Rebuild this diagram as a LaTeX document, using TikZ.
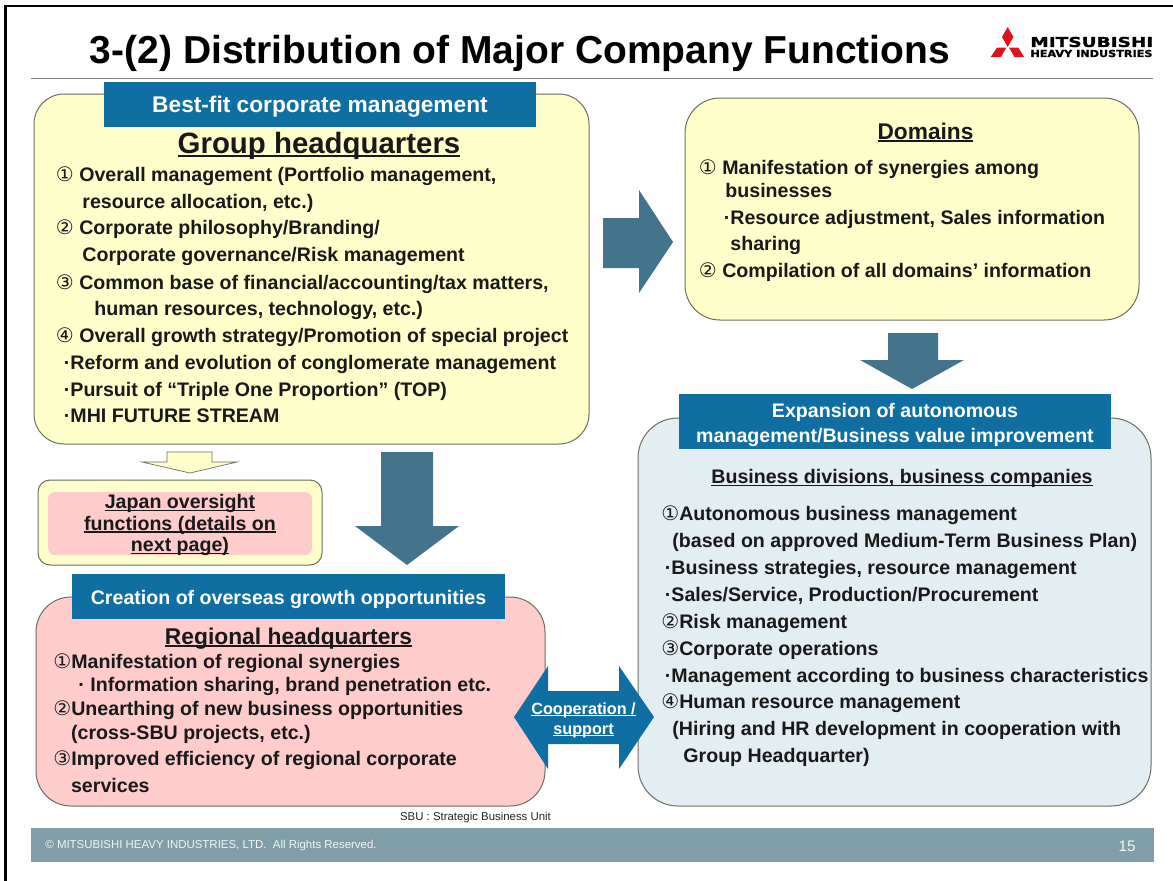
\documentclass[tikz,border=0pt]{standalone}
\usepackage{fontspec}
\setmainfont{Liberation Sans}
\newfontfamily\circfont{DejaVu Sans}
\newfontfamily\logofont[BoldFeatures={FakeBold=1.2}]{DejaVu Sans}
\usetikzlibrary{calc}
\definecolor{hqyellow}{HTML}{FFFFCC}
\definecolor{hqpink}{HTML}{FFCCCC}
\definecolor{hqblue}{HTML}{E3EEF3}
\definecolor{bannerblue}{HTML}{0F6FA3}
\definecolor{arrowteal}{HTML}{44748C}
\definecolor{footbar}{HTML}{7F9EAA}
\definecolor{edgegray}{HTML}{6E6E60}
\definecolor{logored}{HTML}{E0101E}
\newcommand{\cn}[1]{{\circfont\mdseries\fontsize{20}{20}\selectfont #1}}
\newcommand{\ulin}[1]{\setbox0=\hbox{#1}\leavevmode\rlap{\box0}\setbox0=\hbox{#1}\rule[-0.13em]{\wd0}{0.07em}}
\begin{document}
\begin{tikzpicture}[x=1pt,y=-1pt,thick]
	\tikzstyle{box}=[draw=edgegray,line width=1pt]
	\tikzstyle{banner}=[fill=bannerblue,draw=none]
	\tikzstyle{bigarrow}=[fill=arrowteal,draw=none]
	\tikzstyle{bodyline}=[anchor=base west,yshift=-7.5pt,inner sep=0pt,font=\bfseries\fontsize{19.6}{22}\selectfont,text=black!90]
	\tikzstyle{bodyc}=[bodyline,anchor=base]
	\tikzstyle{btext}=[anchor=center,inner sep=0pt,align=center,text=white,font=\bfseries\fontsize{19.6}{24.5}\selectfont]
	\useasboundingbox (0,0) rectangle (1173,881);
	%% frame and header
	\fill[white] (0,0) rectangle (1173,881);
	\draw[line width=2.8pt,line cap=rect] (5.5,881) -- (5.5,6) -- (1173,6);
	\node[anchor=center,inner sep=0pt,font=\bfseries\fontsize{39}{40}\selectfont] (title) at (520,53.5) {3-(2) Distribution of Major Company Functions};
	\draw[gray,line width=1pt] (31,78) -- (1153,78);
	%% logo
	\fill[logored] (1007.7,27) -- (1013.4,37) -- (1007.7,47) -- (1002,37) -- cycle;
	\fill[logored] (1009,47.5) -- (1018.3,47.5) -- (1024,57) -- (1014.5,57) -- cycle;
	\fill[logored] (1006.4,47.5) -- (997.1,47.5) -- (990.7,57) -- (1000.9,57) -- cycle;
	\node[anchor=west,inner sep=0pt] (logoa) at (1030,42) {\scalebox{1.36}[1]{\logofont\bfseries\fontsize{13.6}{14}\selectfont MITSUBISHI}};
	\node[anchor=west,inner sep=0pt] (logob) at (1030,53.5) {\scalebox{1.17}[1]{\logofont\bfseries\fontsize{9.6}{10}\selectfont HEAVY INDUSTRIES}};
	%% footer
	\fill[footbar] (31,828) rectangle (1154,862);
	\node[anchor=west,inner sep=0pt,text=white!90!footbar,font=\fontsize{11.45}{12}\selectfont] (copyr) at (45,846) {© MITSUBISHI HEAVY INDUSTRIES, LTD.\ \ All Rights Reserved.};
	\node[anchor=center,inner sep=0pt,text=white!90!footbar,font=\fontsize{15.3}{16}\selectfont] (pageno) at (1127,846) {15};
	\node[anchor=center,inner sep=0pt,text=black!85,font=\fontsize{11.4}{12}\selectfont] (sbu) at (475.5,818) {SBU : Strategic Business Unit};
	%% boxes
	\draw[box,fill=hqyellow,rounded corners=30pt] (34,94) rectangle (589,444);
	\draw[box,fill=hqyellow,rounded corners=35pt] (685,98) rectangle (1139,320);
	\draw[box,fill=hqblue,rounded corners=40pt] (638,418) rectangle (1151,806);
	\draw[box,fill=hqpink,rounded corners=35pt] (36,597) rectangle (545,806);
	\draw[box,fill=hqyellow,rounded corners=12pt] (38,480) rectangle (322,565);
	\fill[hqpink,rounded corners=7pt] (48,492) rectangle (312,555);
	\node[anchor=center,inner sep=0pt,align=center,text=black!90,font=\bfseries\fontsize{19.6}{21.6}\selectfont] (japan) at (180,525)
		{\ulin{Japan oversight}\\\ulin{functions (details on}\\\ulin{next page)}};
	%% arrows
	\fill[bigarrow] (603,218) -- (639,218) -- (639,190) -- (673,242) -- (639,293) -- (639,268) -- (603,268) -- cycle;
	\fill[bigarrow] (888,333) -- (938,333) -- (938,360) -- (964,360) -- (912,389) -- (860,360) -- (888,360) -- cycle;
	\fill[bigarrow] (381,452) -- (433,452) -- (433,526) -- (459,526) -- (407,565) -- (355,526) -- (381,526) -- cycle;
	\draw[draw=edgegray,fill=hqyellow,line width=.7pt] (167,452) -- (212,452) -- (212,462) -- (237,462) -- (190,473) -- (142,462) -- (167,462) -- cycle;
	\fill[banner] (514,717) -- (548,666) -- (548,691) -- (619,691) -- (619,666) -- (654,717) -- (619,769) -- (619,744) -- (548,744) -- (548,769) -- cycle;
	\node[btext,font=\bfseries\fontsize{16.2}{20}\selectfont] (coop) at (583.5,720) {\ulin{Cooperation /}\\\ulin{support}};
	%% banners
	\fill[banner] (104,82) rectangle (536,127);
	\fill[banner] (679,394) rectangle (1111,449);
	\fill[banner] (72,574) rectangle (505,619);
	\node[btext,font=\bfseries\fontsize{22.7}{24}\selectfont] (bestfit) at (320,107) {Best-fit corporate management};
	\node[btext] (expand) at (895,425) {Expansion of autonomous\\management/Business value improvement};
	\node[btext] (overseas) at (288.5,599) {Creation of overseas growth opportunities};
	%% group headquarters
	\node[bodyc,font=\bfseries\fontsize{29.4}{30}\selectfont] (hq) at (319,145.5) {\ulin{Group headquarters}};
	\node[bodyline] (hqa) at (55.5,174) {\cn{①} Overall management (Portfolio management,};
	\node[bodyline] (hqb) at (82,201) {resource allocation, etc.)};
	\node[bodyline] (hqc) at (55.5,227) {\cn{②} Corporate philosophy/Branding/};
	\node[bodyline] (hqd) at (82,254) {Corporate governance/Risk management};
	\node[bodyline] (hqe) at (55.5,282) {\cn{③} Common base of financial/accounting/tax matters,};
	\node[bodyline] (hqf) at (94,308) {human resources, technology, etc.)};
	\node[bodyline] (hqg) at (55.5,335) {\cn{④} Overall growth strategy/Promotion of special project};
	\node[bodyline] (hqh) at (63.5,362) {·Reform and evolution of conglomerate management};
	\node[bodyline] (hqi) at (63.5,389) {·Pursuit of “Triple One Proportion” (TOP)};
	\node[bodyline] (hqj) at (63.5,415) {·MHI FUTURE STREAM};
	%% domains
	\node[bodyc,font=\bfseries\fontsize{22.7}{24}\selectfont] (dom) at (925.5,131.5) {\ulin{Domains}};
	\node[bodyline] (doma) at (698.5,167) {\cn{①} Manifestation of synergies among};
	\node[bodyline] (domb) at (725,190) {businesses};
	\node[bodyline] (domc) at (723.5,217) {·Resource adjustment, Sales information};
	\node[bodyline] (domd) at (730,243) {sharing};
	\node[bodyline] (dome) at (698.5,270) {\cn{②} Compilation of all domains’ information};
	%% business divisions
	\node[bodyc] (biz) at (902,476) {\ulin{Business divisions, business companies}};
	\node[bodyline] (biza) at (661,513) {\cn{①}Autonomous business management};
	\node[bodyline] (bizb) at (672,540) {(based on approved Medium-Term Business Plan)};
	\node[bodyline] (bizc) at (664.5,567) {·Business strategies, resource management};
	\node[bodyline] (bizd) at (664.5,594) {·Sales/Service, Production/Procurement};
	\node[bodyline] (bize) at (661,621) {\cn{②}Risk management};
	\node[bodyline] (bizf) at (661,648) {\cn{③}Corporate operations};
	\node[bodyline] (bizg) at (664.5,675) {·Management according to business characteristics};
	\node[bodyline] (bizh) at (661,701) {\cn{④}Human resource management};
	\node[bodyline] (bizi) at (672,728) {(Hiring and HR development in cooperation with};
	\node[bodyline] (bizj) at (683,755) {Group Headquarter)};
	%% regional headquarters
	\node[bodyc,font=\bfseries\fontsize{22.8}{24}\selectfont] (reg) at (288.5,636.5) {\ulin{Regional headquarters}};
	\node[bodyline] (rega) at (53,661) {\cn{①}Manifestation of regional synergies};
	\node[bodyline] (regb) at (78,684) {· Information sharing, brand penetration etc.};
	\node[bodyline] (regc) at (53,708) {\cn{②}Unearthing of new business opportunities};
	\node[bodyline] (regd) at (70.7,732) {(cross-SBU projects, etc.)};
	\node[bodyline] (rege) at (53,758) {\cn{③}Improved efficiency of regional corporate};
	\node[bodyline] (regf) at (70.7,785) {services};
\end{tikzpicture}
\end{document}
